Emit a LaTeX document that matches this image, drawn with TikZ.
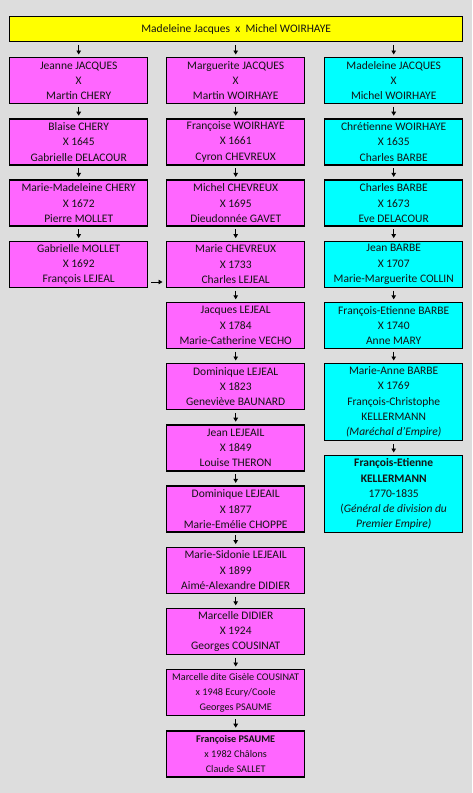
\documentclass[tikz,border=0pt]{standalone}
\usepackage{fontspec}
\setmainfont{Carlito}
\usetikzlibrary{arrows.meta,calc}
\definecolor{bggray}{RGB}{221,221,221}
\definecolor{magbox}{RGB}{255,102,255}
\definecolor{cyanbox}{RGB}{0,255,255}
\definecolor{yelbox}{RGB}{255,255,0}
\definecolor{txt}{RGB}{20,20,20}
\begin{document}
\begin{tikzpicture}[x=1pt,y=-1pt,
  gbox/.style={draw=black,line width=1.4pt,minimum width=138pt,minimum height=46pt,inner sep=0pt,align=center,anchor=north west,text=txt,font=\fontsize{11.5}{15.3}\selectfont},
  mbox/.style={gbox,fill=magbox},
  cbox/.style={gbox,fill=cyanbox},
  sbox/.style={mbox,font=\fontsize{10.2}{15.3}\selectfont},
  arr/.style={line width=0.9pt,-{Triangle[length=4pt,width=4.5pt]},shorten <=2.5pt,shorten >=2.5pt}]
\fill[bggray] (0,0) rectangle (472,793);
\useasboundingbox (0,0) rectangle (472,793);
\node[gbox,fill=yelbox,minimum width=453pt,minimum height=25pt] (top) at (9,16) {Madeleine Jacques\ \ x\ \ Michel WOIRHAYE};
% left column
\node[mbox] (l1) at (9,57) {Jeanne JACQUES\\X\\Martin CHERY};
\node[mbox] (l2) at (9,118.2) {Blaise CHERY\\X 1645\\Gabrielle DELACOUR};
\node[mbox] (l3) at (9,179.4) {Marie-Madeleine CHERY\\X 1672\\Pierre MOLLET};
\node[mbox] (l4) at (9,240.6) {Gabrielle MOLLET\\X 1692\\François LEJEAL};
% middle column
\node[mbox] (m1) at (166,57) {Marguerite JACQUES\\X\\Martin WOIRHAYE};
\node[mbox] (m2) at (166,118.2) {Françoise WOIRHAYE\\X 1661\\Cyron CHEVREUX};
\node[mbox] (m3) at (166,179.4) {Michel CHEVREUX\\X 1695\\Dieudonnée GAVET};
\node[mbox] (m4) at (166,240.6) {Marie CHEVREUX\\X 1733\\Charles LEJEAL};
\node[mbox] (m5) at (166,301.8) {Jacques LEJEAL\\X 1784\\Marie-Catherine VECHO};
\node[mbox] (m6) at (166,363) {Dominique LEJEAL\\X 1823\\Geneviève BAUNARD};
\node[mbox] (m7) at (166,424.2) {Jean LEJEAIL\\X 1849\\Louise THERON};
\node[mbox] (m8) at (166,485.4) {Dominique LEJEAIL\\X 1877\\Marie-Emélie CHOPPE};
\node[mbox] (m9) at (166,546.6) {Marie-Sidonie LEJEAIL\\X 1899\\Aimé-Alexandre DIDIER};
\node[mbox] (m10) at (166,607.8) {Marcelle DIDIER\\X 1924\\Georges COUSINAT};
\node[sbox] (m11) at (166,669) {Marcelle dite Gisèle COUSINAT\\x 1948 Ecury/Coole\\Georges PSAUME};
\node[sbox] (m12) at (166,730.2) {\textbf{Françoise PSAUME}\\x 1982 Châlons\\Claude SALLET};
% right column
\node[cbox] (r1) at (324,57) {Madeleine JACQUES\\X\\Michel WOIRHAYE};
\node[cbox] (r2) at (324,118.2) {Chrétienne WOIRHAYE\\X 1635\\Charles BARBE};
\node[cbox] (r3) at (324,179.4) {Charles BARBE\\X 1673\\Eve DELACOUR};
\node[cbox] (r4) at (324,240.6) {Jean BARBE\\X 1707\\Marie-Marguerite COLLIN};
\node[cbox] (r5) at (324,301.8) {François-Etienne BARBE\\X 1740\\Anne MARY};
\node[cbox,minimum height=77pt] (r6) at (324,363) {Marie-Anne BARBE\\X 1769\\François-Christophe\\KELLERMANN\\\textit{(Maréchal d'Empire)}};
\node[cbox,minimum height=77pt] (r7) at (324,455) {\textbf{François-Etienne}\\\textbf{KELLERMANN}\\1770-1835\\(\textit{Général de division du}\\\textit{Premier Empire)}};
% arrows
\draw[arr] (top.south -| l1.north) -- (l1.north);
\draw[arr] (top.south -| m1.north) -- (m1.north);
\draw[arr] (top.south -| r1.north) -- (r1.north);
\foreach \a/\b in {l1/l2,l2/l3,l3/l4,m1/m2,m2/m3,m3/m4,m4/m5,m5/m6,m6/m7,m7/m8,m8/m9,m9/m10,m10/m11,m11/m12,r1/r2,r2/r3,r3/r4,r4/r5,r5/r6,r6/r7}
  \draw[arr] (\a.south) -- (\b.north);
\draw[arr,shorten <=3pt,shorten >=3.5pt] ($(l4.south east)+(0,-6)$) -- ($(m4.south west)+(0,-6)$);
\end{tikzpicture}
\end{document}
